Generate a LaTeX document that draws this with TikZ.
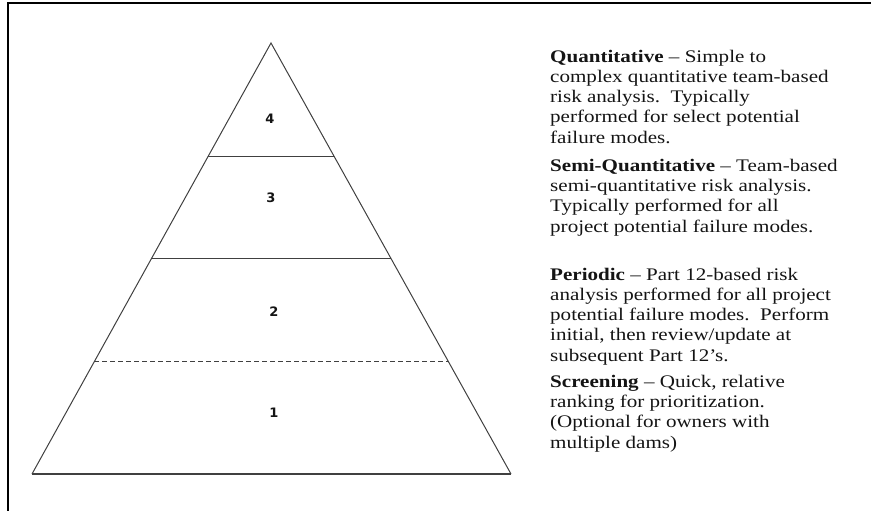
\documentclass[tikz,border=0pt]{standalone}
\usepackage{fontspec}
\setmainfont{Liberation Serif}[FakeStretch=1.19]
\newfontfamily\tierfont{DejaVu Sans}
\usetikzlibrary{calc}
\definecolor{Edge}{RGB}{64,64,64}
\definecolor{Ink}{RGB}{20,20,20}
\tikzset{
    tier/.style={Edge, line width=1pt},
    level/.style={Ink, inner sep=0pt, font=\tierfont\bfseries\fontsize{13}{13}\selectfont},
    note/.style={Ink, inner sep=0pt, anchor=base west, align=left, font=\fontsize{17.7}{20.1}\selectfont}
}

\begin{document}
\begin{tikzpicture}[x=1pt,y=-1pt]
    %% Background
    \useasboundingbox (0,0) rectangle (871,511);
    \clip (0,0) rectangle (871,511);

    %% Frame
    \draw[line width=2pt] (8,530) -- (8,3) -- (890,3);

    %% Pyramid
    \coordinate (apex) at (271,43);
    \coordinate (bl) at (32,474);
    \coordinate (br) at (511,474);
    \draw[tier] (bl) -- (apex) -- (br);
    \draw[tier, line width=1.5pt] (bl) -- (br);
    \draw[tier] ($(apex)!0.2645!(bl)$) -- ($(apex)!0.2645!(br)$);
    \draw[tier] ($(apex)!0.501!(bl)$) -- ($(apex)!0.501!(br)$);
    \draw[tier, dash pattern=on 5pt off 3pt] ($(apex)!0.74!(bl)$) -- ($(apex)!0.74!(br)$);

    %% Levels
    \node[level] (l4) at (270,119) {4};
    \node[level] (l3) at (271,198) {3};
    \node[level] (l2) at (274,312) {2};
    \node[level] (l1) at (274,413) {1};

    %% Notes (anchored at the baseline of the last line)
    \node[note] (quant) at (550,143) {\textbf{Quantitative} -- Simple to\\
        complex quantitative team-based\\
        risk analysis.\ \ Typically\\
        performed for select potential\\
        failure modes.};
    \node[note] (semi) at (550,232) {\textbf{Semi-Quantitative} -- Team-based\\
        semi-quantitative risk analysis.\\
        Typically performed for all\\
        project potential failure modes.};
    \node[note] (periodic) at (550,361) {\textbf{Periodic} -- Part 12-based risk\\
        analysis performed for all project\\
        potential failure modes.\ \ Perform\\
        initial, then review/update at\\
        subsequent Part 12's.};
    \node[note] (screen) at (550,448) {\textbf{Screening} -- Quick, relative\\
        ranking for prioritization.\\
        (Optional for owners with\\
        multiple dams)};
\end{tikzpicture}
\end{document}
